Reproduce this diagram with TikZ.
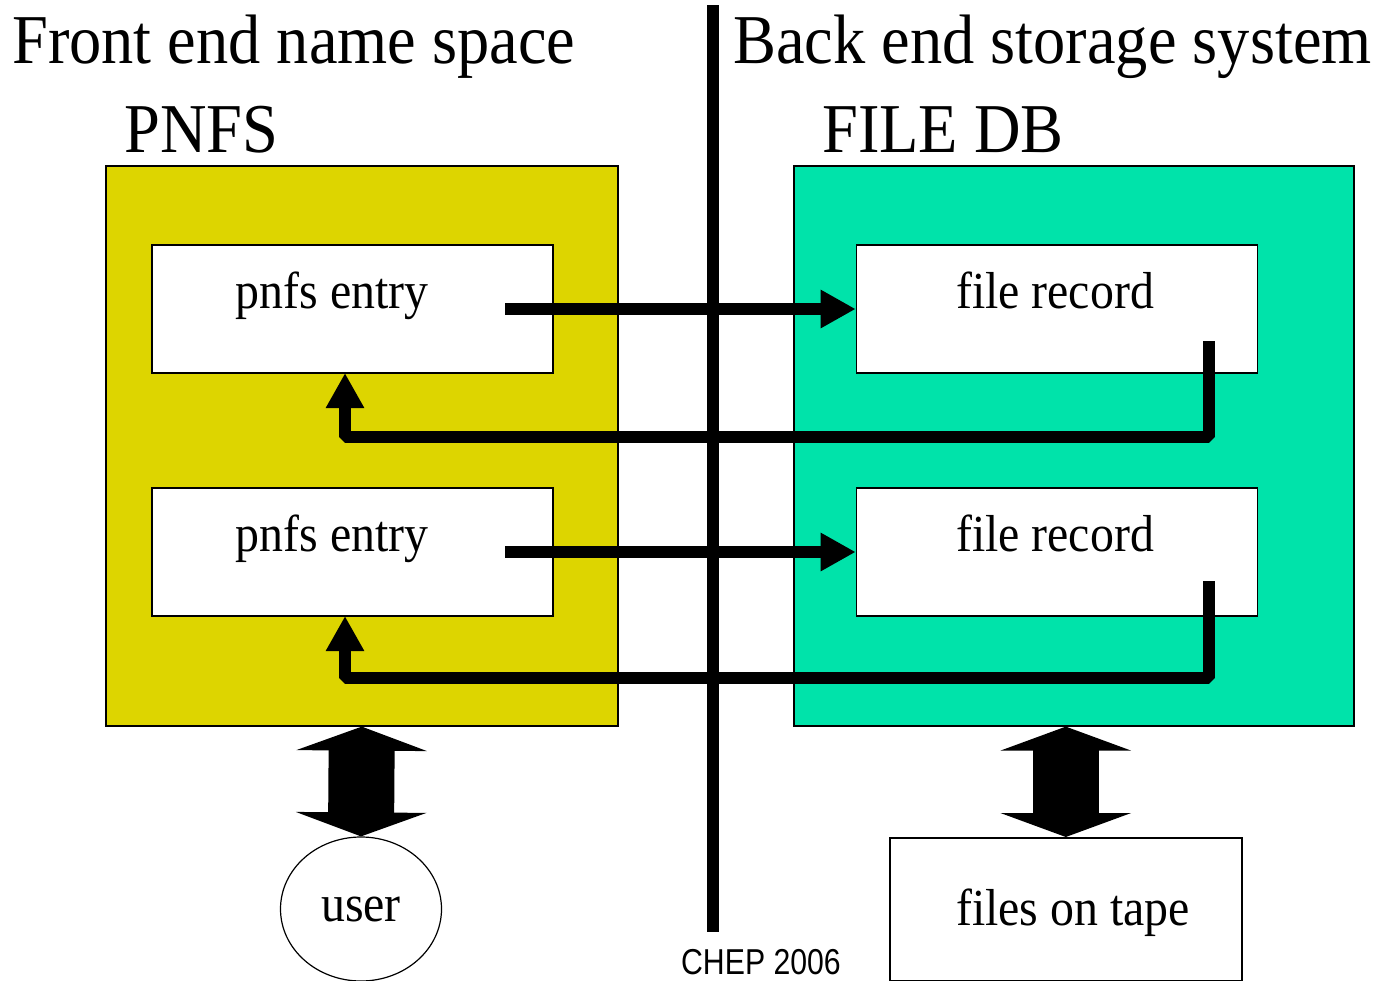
\documentclass[tikz,border=0pt]{standalone}
\usepackage{fontspec}
\setmainfont{Liberation Serif}[FakeStretch=0.92]
\newfontfamily\chepfont{Liberation Sans}[FakeStretch=0.84]
\usetikzlibrary{arrows.meta,shapes.geometric}
\definecolor{pnfsyellow}{RGB}{221,213,0}
\definecolor{dbgreen}{RGB}{0,227,170}
\tikzset{
  panel/.style={draw=black, line width=1.6pt, anchor=north west, inner sep=0pt},
  recbox/.style={draw=black, fill=white, line width=1.6pt, inner sep=0pt, minimum width=401pt, minimum height=128pt},
  boxtext/.style={anchor=base, inner sep=0pt, font=\fontsize{52}{60}\selectfont},
  titletext/.style={anchor=base west, inner sep=0pt, font=\fontsize{70}{80}\selectfont},
  fatarrow/.style={line width=12pt, line join=bevel, -{Triangle[length=35pt,width=36pt]}},
  fatline/.style={line width=12pt},
  dblarrow/.style={line width=66pt, {Triangle[length=24pt,width=130pt]}-{Triangle[length=24pt,width=130pt]}},
}
\begin{document}
\begin{tikzpicture}[x=1pt,y=-1pt]
\useasboundingbox (0,0) rectangle (1373,980);
% panels
\node[panel, fill=pnfsyellow, minimum width=512pt, minimum height=560pt] (pnfs) at (105,165) {};
\node[panel, fill=dbgreen, minimum width=560pt, minimum height=560pt] (db) at (793,165) {};
% titles
\node[titletext] (t1) at (12,63) {Front end name space};
\node[titletext] (t2) at (733,63) {Back end storage system};
\node[titletext] (t3) at (124,152) {PNFS};
\node[titletext] (t4) at (822,152) {FILE DB};
% record boxes
\node[recbox] (e1) at (352.5,309) {};
\node[recbox] (e2) at (352.5,552) {};
\node[recbox] (r1) at (1057,309) {};
\node[recbox] (r2) at (1057,552) {};
\node[boxtext] (e1t) at (332,308) {pnfs entry};
\node[boxtext] (e2t) at (332,551) {pnfs entry};
\node[boxtext] (r1t) at (1055,308) {file record};
\node[boxtext] (r2t) at (1055,551) {file record};
% divider
\coordinate (dtop) at (713,5);
\coordinate (dbot) at (713,932);
\draw[fatline] (dtop) -- (dbot);
% forward arrows
\coordinate (a1s) at (505,309);
\coordinate (a2s) at (505,552);
\draw[fatarrow] (a1s) -- (r1.west |- a1s);
\draw[fatarrow] (a2s) -- (r2.west |- a2s);
% return arrows
\coordinate (b1s) at (1209,341);
\coordinate (b1m) at (1209,437);
\coordinate (b1e) at (345,373);
\draw[fatarrow] (b1s) -- (b1m) -| (b1e);
\coordinate (b2s) at (1209,581);
\coordinate (b2m) at (1209,678);
\coordinate (b2e) at (345,616);
\draw[fatarrow] (b2s) -- (b2m) -| (b2e);
% bottom
\node[draw=black, line width=1.2pt, ellipse, minimum width=161pt, minimum height=144pt, inner sep=0pt, font=\fontsize{52}{60}\selectfont] (user) at (361,909) {user};
\node[draw=black, line width=1.6pt, fill=white, anchor=north west, minimum width=352pt, minimum height=143pt, inner sep=0pt] (tape) at (889,837) {};
\node[boxtext] (tapet) at (1073,925) {files on tape};
\draw[dblarrow] (pnfs.south) -- (user.north);
\draw[dblarrow] (tape.north |- db.south) -- (tape.north);
\node[anchor=base, inner sep=0pt, font=\chepfont\fontsize{36}{40}\selectfont] (chep) at (761,974) {CHEP 2006};
\end{tikzpicture}
\end{document}
